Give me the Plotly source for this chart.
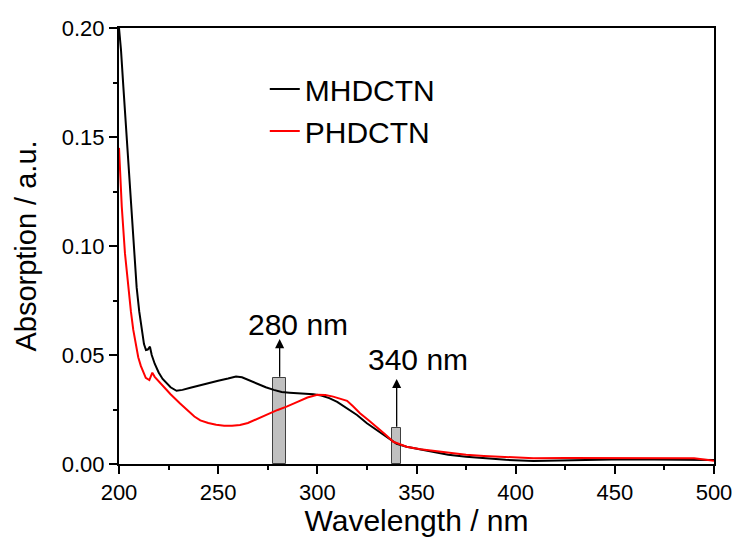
import plotly.graph_objects as go

# MHDCTN spectrum
mh_wl = [200, 201, 202.2, 203.9, 205.5, 207.2, 208.9, 210.2, 211.4, 212.6, 213.6, 214.5, 215.6,
         216.5, 218, 220, 222, 224, 226, 229, 232, 236, 240, 245, 250, 255, 259, 262, 266, 270,
         274, 278, 282, 286, 292, 298, 302, 306, 310, 316, 320, 325, 330, 336, 340, 345, 350,
         358, 366, 375, 384, 395, 409, 420, 430, 442, 455, 470, 485, 500]
mh_abs = [0.200, 0.190, 0.173, 0.150, 0.127, 0.104, 0.081, 0.070, 0.0615, 0.055, 0.0523, 0.0525, 0.0538,
          0.050, 0.046, 0.042, 0.039, 0.037, 0.0352, 0.0336, 0.0340, 0.0350, 0.0360, 0.0370, 0.0382,
          0.0392, 0.0401, 0.0398, 0.0382, 0.0368, 0.0352, 0.0340, 0.0330, 0.0327, 0.0325, 0.0320,
          0.0314, 0.0302, 0.0285, 0.0250, 0.0225, 0.0187, 0.0155, 0.0115, 0.0093, 0.0079, 0.0070,
          0.0056, 0.0042, 0.0033, 0.0026, 0.0019, 0.0014, 0.0016, 0.0019, 0.0021, 0.0022, 0.0021,
          0.0020, 0.0018]

# PHDCTN spectrum
ph_wl = [200, 201.4, 203, 204.7, 206, 207.2, 208.5, 209.7, 211, 212.3, 213.5, 215.3, 216.8, 218,
         220, 223, 226, 230.8, 234, 238, 241, 245, 249, 253, 257, 261, 265, 271, 276, 280, 284.5,
         290, 295, 300, 304, 308, 312, 315, 318, 321.5, 326, 330, 334, 338.3, 342, 345, 352, 360,
         367, 375, 384, 395, 409, 425, 442, 460, 480, 490, 500]
ph_abs = [0.145, 0.118, 0.0967, 0.081, 0.070, 0.0615, 0.054, 0.049, 0.045, 0.0416, 0.0395, 0.0385,
          0.0419, 0.0400, 0.0380, 0.0350, 0.0320, 0.0278, 0.0250, 0.0218, 0.0200, 0.0188, 0.0180,
          0.0176, 0.0176, 0.0179, 0.0188, 0.0210, 0.0232, 0.0248, 0.0263, 0.0285, 0.0305, 0.0318,
          0.0316, 0.0309, 0.0300, 0.0290, 0.0265, 0.0233, 0.0200, 0.0171, 0.0138, 0.0102, 0.0088,
          0.0079, 0.0068, 0.0058, 0.0049, 0.0042, 0.0037, 0.0031, 0.0026, 0.0028, 0.0028, 0.0027,
          0.0026, 0.0026, 0.0015]

# Marker bars at the excitation wavelengths
bar_wl = [281, 340]
bar_height = [0.0393, 0.0164]
bar_width = [6.6, 4.3]
arrow_tip = [0.0573, 0.039]
label_text = ["280 nm", "340 nm"]
label_x = [290.5, 351]
label_y = [0.0640, 0.0478]

FONT = "Liberation Sans, Arial, sans-serif"

fig = go.Figure()
fig.add_trace(go.Scatter(x=mh_wl, y=mh_abs, mode="lines", name="MHDCTN",
                         line=dict(color="black", width=2)))
fig.add_trace(go.Scatter(x=ph_wl, y=ph_abs, mode="lines", name="PHDCTN",
                         line=dict(color="#ff0000", width=2)))
fig.add_trace(go.Bar(x=bar_wl, y=bar_height, width=bar_width, showlegend=False,
                     marker=dict(color="#c0c0c0", line=dict(color="#404040", width=1))))

for xw, yb, yt in zip(bar_wl, bar_height, arrow_tip):
    fig.add_annotation(x=xw, y=yt, ax=xw, ay=yb, xref="x", yref="y", axref="x", ayref="y",
                       text="", showarrow=True, arrowhead=2, arrowsize=1.4, arrowwidth=1.3,
                       arrowcolor="black", standoff=0, startstandoff=0)
for t, xl, yl in zip(label_text, label_x, label_y):
    fig.add_annotation(x=xl, y=yl, xref="x", yref="y", text=t, showarrow=False,
                       font=dict(family=FONT, size=30, color="black"))

axis_common = dict(showline=True, linecolor="black", linewidth=2, mirror=True,
                   ticks="outside", ticklen=8, tickwidth=1.5, tickcolor="black",
                   showgrid=False, zeroline=False, automargin=False,
                   tickfont=dict(family=FONT, size=22, color="black"))

fig.update_xaxes(range=[200, 500], tick0=200, dtick=50,
                 minor=dict(dtick=25, ticks="outside", ticklen=4, tickwidth=1.5, tickcolor="black", showgrid=False),
                 title=dict(text="Wavelength / nm", font=dict(family=FONT, size=30, color="black"), standoff=0),
                 **axis_common)
fig.update_yaxes(range=[0, 0.2], tick0=0, dtick=0.05, tickformat=".2f",
                 minor=dict(dtick=0.025, ticks="outside", ticklen=4, tickwidth=1.5, tickcolor="black", showgrid=False),
                 title=dict(text="Absorption / a.u.",
                            font=dict(family=FONT, size=29, color="black"), standoff=17),
                 **axis_common)

fig.update_layout(
    width=736, height=537,
    margin=dict(l=119, r=22, t=28, b=73),
    plot_bgcolor="white", paper_bgcolor="white",
    font=dict(family=FONT, color="black"),
    showlegend=True,
    legend=dict(x=0.245, y=0.92, xanchor="left", yanchor="top",
                bgcolor="rgba(0,0,0,0)", font=dict(family=FONT, size=30, color="black"),
                tracegroupgap=0),
    bargap=0,
)

fig.write_html("out.html")
